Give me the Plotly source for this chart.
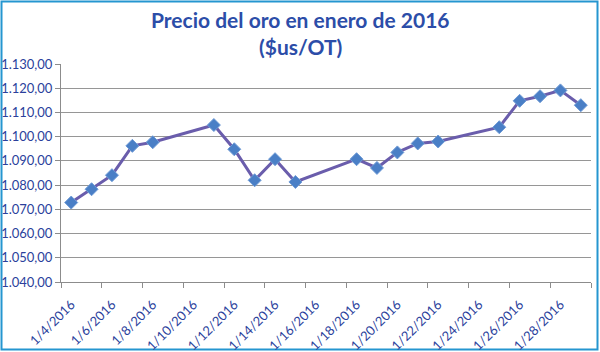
import plotly.graph_objects as go

# Data (day of January 2016, price $us/OT)
days = [4, 5, 6, 7, 8, 11, 12, 13, 14, 15, 18, 19, 20, 21, 22, 25, 26, 27, 28, 29]
prices = [1072.8, 1078.3, 1084.1, 1096.2, 1097.7, 1104.8, 1094.8, 1082.0, 1090.7, 1081.3,
          1090.7, 1087.1, 1093.5, 1097.2, 1098.0, 1103.9, 1114.8, 1116.7, 1119.1, 1113.0]
x_tick_days = [4, 6, 8, 10, 12, 14, 16, 18, 20, 22, 24, 26, 28]
x_tick_labels = [f"1/{d}/2016" for d in x_tick_days]
y_tick_vals = [1040, 1050, 1060, 1070, 1080, 1090, 1100, 1110, 1120, 1130]
y_tick_labels = ["1.040,00", "1.050,00", "1.060,00", "1.070,00", "1.080,00",
                 "1.090,00", "1.100,00", "1.110,00", "1.120,00", "1.130,00"]
title_lines = ["Precio del oro en enero de 2016", "($us/OT)"]

W, H = 600, 352
ml, mr, mt, mb = 61, 9, 64, 70
pw, ph = W - ml - mr, H - mt - mb

fig = go.Figure()
fig.add_trace(go.Scatter(
    x=days, y=prices, mode="lines+markers",
    line=dict(color="#6A5DAC", width=3),
    marker=dict(symbol="diamond", size=10, color="#4A7FC6",
                line=dict(color="#6F9BD6", width=1)),
    showlegend=False, hoverinfo="skip"))

tick_font = dict(family="Lato, 'Open Sans', sans-serif", size=13, color="#2B3F9C")
title_font = dict(family="Lato, 'Open Sans', sans-serif", size=21, color="#2C4DA8")

fig.update_layout(
    width=W, height=H,
    margin=dict(l=ml, r=mr, t=mt, b=mb),
    paper_bgcolor="white", plot_bgcolor="white",
    xaxis=dict(range=[3.5, 29.5], tickvals=x_tick_days, ticktext=x_tick_labels,
               tickangle=-45, ticks="", showgrid=False, zeroline=False,
               showline=True, linecolor="#8C8C8C", linewidth=1, automargin=False,
               tickfont=tick_font, ticklabelstandoff=9,
               minor=dict(ticks="outside", tick0=3.5, dtick=2, ticklen=5,
                          tickcolor="#8C8C8C", showgrid=False)),
    yaxis=dict(range=[1040, 1130], tickvals=y_tick_vals, ticktext=y_tick_labels,
               ticks="outside", ticklen=5, tickcolor="#8C8C8C", automargin=False,
               showgrid=True, gridcolor="#969696", gridwidth=1, zeroline=False,
               showline=True, linecolor="#8C8C8C", linewidth=1,
               tickfont=tick_font),
)

# title as two centred lines
for i, (txt, ypx) in enumerate(zip(title_lines, [20, 47])):
    fig.add_annotation(text=f"<b>{txt}</b>", xref="paper", yref="paper",
                       x=(300 - ml) / pw, y=1 + (mt - ypx) / ph,
                       xanchor="center", yanchor="middle", showarrow=False,
                       font=title_font)

# outer blue frame around the whole chart
fig.add_shape(type="rect", xref="paper", yref="paper",
              x0=(1.5 - ml) / pw, x1=(W - 2.5 - ml) / pw,
              y0=-(mb - 2.5) / ph, y1=1 + (mt - 1.5) / ph,
              line=dict(color="#2596D0", width=2), layer="below")

fig.write_html("out.html")
